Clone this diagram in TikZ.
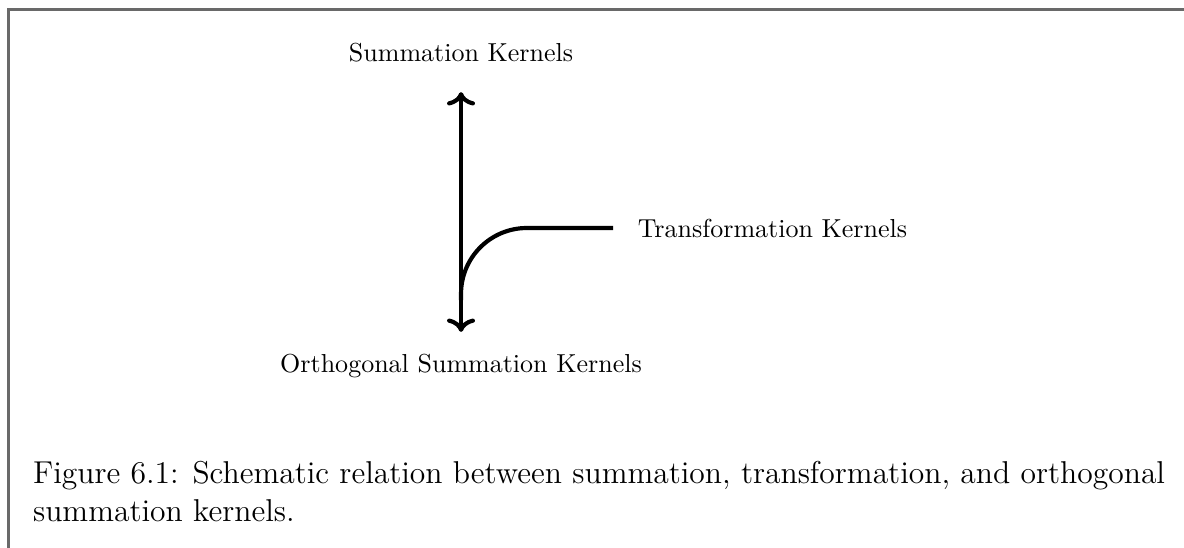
\documentclass[tikz,border=0pt]{standalone}
\usepackage{amsmath,amssymb}
\usepackage{tikz}
\usetikzlibrary{arrows.meta,positioning}
\usepackage{xcolor}
\definecolor{cFrame}{RGB}{105,105,105}

\begin{document}
\begin{tikzpicture}[kline/.style={ultra thick}, lbl/.style={font=\normalsize}]
  \useasboundingbox (0,0) rectangle (16,7.405);
  % frame of the page crop
  \draw[cFrame,line width=0.8pt] (0.115,0) |- (16,7.277);
  % end points of the axis
  \coordinate (top) at (6.23,6.16);
  \coordinate (bot) at (6.23,2.92);
  \coordinate (bend) at (6.23,3.35);
  \coordinate (tend) at (8.284,4.324);
  % arrows
  \draw[kline,<->] (top) -- (bot);
  \draw[kline,rounded corners=0.89cm] (bend) |- (tend);
  % labels
  \node[lbl,above=8pt of top] (sk) {Summation Kernels};
  \node[lbl,below=5pt of bot] (osk) {Orthogonal Summation Kernels};
  \node[lbl,right=6pt of tend] (tk) {Transformation Kernels};
  % caption
  \node[anchor=north west,inner sep=0pt,align=left,font=\fontsize{12.15}{14.7}\selectfont] (cap) at (0.44,1.185)
    {Figure 6.1: Schematic relation between summation, transformation, and orthogonal\\summation kernels.};
\end{tikzpicture}
\end{document}
